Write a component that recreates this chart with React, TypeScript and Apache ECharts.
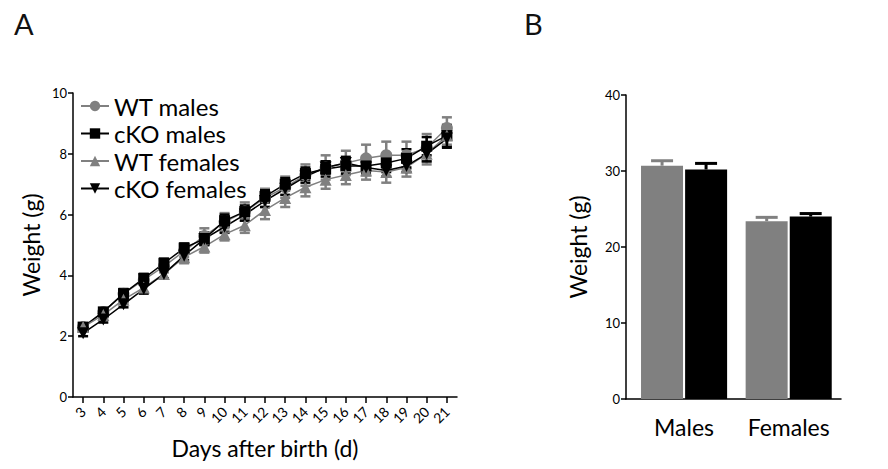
import React, { useEffect, useRef } from "react";
import * as echarts from "echarts";

const days = ["3", "4", "5", "6", "7", "8", "9", "10", "11", "12", "13", "14", "15", "16", "17", "18", "19", "20", "21"];
const wtMales = [2.3, 2.8, 3.4, 3.85, 4.3, 4.8, 5.3, 5.75, 6.1, 6.55, 6.9, 7.3, 7.55, 7.7, 7.85, 7.95, 7.95, 8.2, 8.85];
const wtMalesErr = [0.1, 0.1, 0.15, 0.15, 0.2, 0.2, 0.25, 0.3, 0.3, 0.3, 0.35, 0.35, 0.4, 0.4, 0.45, 0.45, 0.45, 0.45, 0.35];
const cKOMales = [2.3, 2.8, 3.4, 3.9, 4.4, 4.9, 5.2, 5.8, 6.1, 6.6, 7.0, 7.35, 7.5, 7.6, 7.6, 7.7, 7.85, 8.25, 8.6];
const cKOMalesErr = [0.1, 0.1, 0.15, 0.15, 0.15, 0.15, 0.2, 0.2, 0.2, 0.2, 0.2, 0.2, 0.25, 0.25, 0.3, 0.3, 0.3, 0.3, 0.35];
const wtFemales = [2.3, 2.7, 3.2, 3.6, 4.05, 4.6, 4.95, 5.35, 5.65, 6.15, 6.55, 6.9, 7.15, 7.3, 7.45, 7.4, 7.55, 8.0, 8.6];
const wtFemalesErr = [0.1, 0.1, 0.1, 0.15, 0.15, 0.2, 0.2, 0.2, 0.25, 0.3, 0.3, 0.3, 0.3, 0.3, 0.3, 0.35, 0.3, 0.35, 0.3];
const cKOFemales = [2.1, 2.55, 3.05, 3.55, 4.05, 4.65, 5.2, 5.6, 6.0, 6.45, 6.85, 7.25, 7.55, 7.7, 7.55, 7.45, 7.6, 8.0, 8.5];
const cKOFemalesErr = [0.1, 0.1, 0.1, 0.15, 0.15, 0.15, 0.2, 0.2, 0.2, 0.2, 0.2, 0.2, 0.2, 0.2, 0.2, 0.2, 0.2, 0.25, 0.3];

const groups = ["Males", "Females"];
const wtAdult = [30.7, 23.4];
const wtAdultErr = [0.65, 0.5];
const cKOAdult = [30.2, 24.0];
const cKOAdultErr = [0.8, 0.4];

const GRAY = "#808080";
const BLACK = "#000000";
const FONT = "Lato";

export default function App() {
  const ref = useRef<HTMLDivElement>(null);
  useEffect(() => {
    if (!ref.current) return;
    const chart = echarts.init(ref.current, null, { renderer: "svg" });

    const errSeries = (name: string, vals: number[], errs: number[], color: string, z: number) => ({
      type: "custom",
      name: name + " err",
      xAxisIndex: 0,
      yAxisIndex: 0,
      z,
      silent: true,
      encode: { x: 0, y: [1, 2] },
      data: vals.map((v, i) => [i, v - errs[i], v + errs[i]]),
      renderItem: (params: any, api: any) => {
        const x = api.value(0);
        const lo = api.coord([x, api.value(1)]);
        const hi = api.coord([x, api.value(2)]);
        const hw = 5;
        const st = { stroke: color, lineWidth: 2.5 };
        return {
          type: "group",
          children: [
            { type: "line", shape: { x1: lo[0], y1: lo[1], x2: hi[0], y2: hi[1] }, style: st },
            { type: "line", shape: { x1: hi[0] - hw, y1: hi[1], x2: hi[0] + hw, y2: hi[1] }, style: st },
            { type: "line", shape: { x1: lo[0] - hw, y1: lo[1], x2: lo[0] + hw, y2: lo[1] }, style: st },
          ],
        };
      },
    });

    const lineSeries = (name: string, vals: number[], color: string, symbol: string, rotate: number, size: number, z: number) => ({
      type: "line",
      name,
      xAxisIndex: 0,
      yAxisIndex: 0,
      z,
      data: vals,
      symbol,
      symbolSize: size,
      symbolRotate: rotate,
      showAllSymbol: true,
      lineStyle: { color, width: 1.5 },
      itemStyle: { color, borderWidth: 0 },
    });

    const barErr = (name: string, vals: number[], errs: number[], color: string, offset: number) => ({
      type: "custom",
      name,
      xAxisIndex: 1,
      yAxisIndex: 1,
      z: 5,
      silent: true,
      encode: { x: 0, y: [1, 2] },
      data: vals.map((v, i) => [i + 1, v, v + errs[i]]),
      renderItem: (params: any, api: any) => {
        const x = api.value(0);
        const lo = api.coord([x, api.value(1)]);
        const hi = api.coord([x, api.value(2)]);
        const cx = lo[0] + offset;
        const hw = 11;
        const st = { stroke: color, lineWidth: 3 };
        return {
          type: "group",
          children: [
            { type: "line", shape: { x1: cx, y1: lo[1], x2: cx, y2: hi[1] }, style: st },
            { type: "line", shape: { x1: cx - hw, y1: hi[1], x2: cx + hw, y2: hi[1] }, style: st },
          ],
        };
      },
    });

    const axisLine = { show: true, lineStyle: { color: "#000", width: 1.5 } };
    const axisTick = { show: true, length: 5, lineStyle: { color: "#000", width: 1.5 } };

    chart.setOption({
      animation: false,
      title: [
        { text: "A", left: 9, top: 4, textStyle: { fontFamily: FONT, fontSize: 29, fontWeight: "normal", color: "#111" } },
        { text: "B", left: 519, top: 4, textStyle: { fontFamily: FONT, fontSize: 29, fontWeight: "normal", color: "#111" } },
      ],
      legend: {
        data: ["WT males", "cKO males", "WT females", "cKO females"],
        orient: "vertical",
        left: 80,
        top: 94,
        padding: 0,
        itemGap: 3.5,
        itemWidth: 28,
        itemHeight: 13,
        textStyle: { fontFamily: FONT, fontSize: 24, color: "#000" },
        selectedMode: false,
      },
      grid: [
        { left: 73, right: 431, top: 93, bottom: 72 },
        { left: 626, right: 47, top: 95, bottom: 70 },
      ],
      xAxis: [
        {
          type: "category",
          gridIndex: 0,
          data: days,
          boundaryGap: true,
          axisLine,
          axisTick: { ...axisTick, alignWithLabel: true, length: 6 },
          axisLabel: { rotate: 45, fontFamily: FONT, fontSize: 14, color: "#000", margin: 12, interval: 0 },
          name: "Days after birth (d)",
          nameLocation: "middle",
          nameGap: 39,
          nameTextStyle: { fontFamily: FONT, fontSize: 23, color: "#000" },
          splitLine: { show: false },
        },
        {
          type: "value",
          gridIndex: 1,
          min: 0.445,
          max: 2.5,
          axisLine,
          axisTick: { show: false },
          splitLine: { show: false },
          axisLabel: {
            customValues: [1, 2],
            formatter: (v: number) => groups[Math.round(v) - 1] ?? "",
            fontFamily: FONT,
            fontSize: 23,
            color: "#000",
            margin: 16,
          },
        },
      ],
      yAxis: [
        {
          type: "value",
          gridIndex: 0,
          min: 0,
          max: 10,
          interval: 2,
          axisLine,
          axisTick,
          splitLine: { show: false },
          axisLabel: { fontFamily: FONT, fontSize: 13, color: "#000", margin: 6 },
          name: "Weight (g)",
          nameLocation: "middle",
          nameGap: 31,
          nameTextStyle: { fontFamily: FONT, fontSize: 23, color: "#000" },
        },
        {
          type: "value",
          gridIndex: 1,
          min: 0,
          max: 40,
          interval: 10,
          axisLine,
          axisTick,
          splitLine: { show: false },
          axisLabel: { fontFamily: FONT, fontSize: 13, color: "#000", margin: 6 },
          name: "Weight (g)",
          nameLocation: "middle",
          nameGap: 37,
          nameTextStyle: { fontFamily: FONT, fontSize: 23, color: "#000" },
        },
      ],
      series: [
        errSeries("WT males", wtMales, wtMalesErr, GRAY, 2),
        errSeries("cKO males", cKOMales, cKOMalesErr, BLACK, 2),
        errSeries("WT females", wtFemales, wtFemalesErr, GRAY, 2),
        errSeries("cKO females", cKOFemales, cKOFemalesErr, BLACK, 2),
        lineSeries("WT males", wtMales, GRAY, "circle", 0, 12, 3),
        lineSeries("cKO males", cKOMales, BLACK, "rect", 0, 11, 3),
        lineSeries("WT females", wtFemales, GRAY, "triangle", 0, 12, 3),
        lineSeries("cKO females", cKOFemales, BLACK, "triangle", 180, 12, 3),
        {
          type: "bar",
          name: "WT adult",
          xAxisIndex: 1,
          yAxisIndex: 1,
          data: wtAdult.map((v, i) => [i + 1, v]),
          barWidth: 42,
          barGap: "5%",
          itemStyle: { color: GRAY },
        },
        {
          type: "bar",
          name: "cKO adult",
          xAxisIndex: 1,
          yAxisIndex: 1,
          data: cKOAdult.map((v, i) => [i + 1, v]),
          barWidth: 42,
          barGap: "5%",
          itemStyle: { color: BLACK },
        },
        barErr("WT adult err", wtAdult, wtAdultErr, GRAY, -22),
        barErr("cKO adult err", cKOAdult, cKOAdultErr, BLACK, 22),
      ],
    });
    return () => chart.dispose();
  }, []);
  return <div ref={ref} style={{ width: 888, height: 469, position: "absolute", left: 0, top: 0 }} />;
}
